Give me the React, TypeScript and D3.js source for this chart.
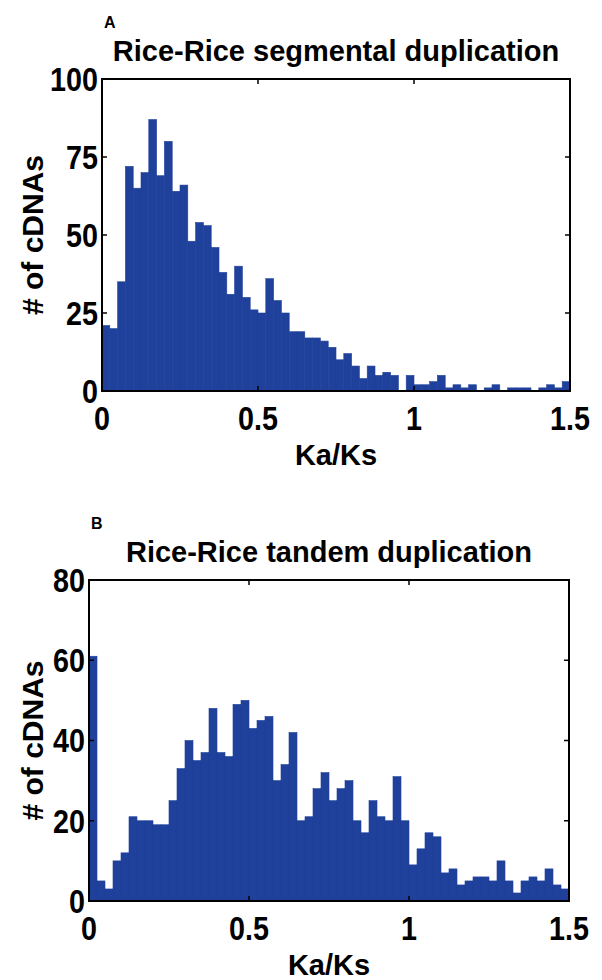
import React from 'react';
import * as d3 from 'd3';

// bin width on Ka/Ks axis, 60 bins from 0 to 1.5
const binWidth = 0.025;
const binStarts = d3.range(60).map((i) => i * binWidth);

const segmentalCounts = [
  21, 20, 35, 72, 65, 70, 87, 69, 80, 64, 66, 48, 54, 53, 46, 38, 31, 40, 30, 26,
  25, 36, 29, 25, 19, 19, 17, 17, 16, 14, 10, 12, 8, 4, 8, 5, 6, 5, 0, 5,
  2, 2, 3, 5, 1, 2, 1, 2, 0, 1, 2, 0, 1, 1, 1, 0, 1, 2, 1, 3,
];

const tandemCounts = [
  61, 5, 3, 10, 12, 21, 20, 20, 19, 19, 25, 33, 40, 35, 37, 48, 37, 36, 49, 50,
  43, 45, 46, 30, 34, 42, 20, 21, 28, 32, 25, 28, 30, 20, 17, 25, 21, 20, 31, 20,
  9, 13, 17, 16, 7, 8, 4, 5, 6, 6, 5, 10, 5, 2, 5, 6, 5, 8, 4, 3,
];

const xTicks = [0, 0.5, 1, 1.5];
const segmentalYTicks = [0, 25, 50, 75, 100];
const tandemYTicks = [0, 20, 40, 60, 80];

const barColor = '#1f419b';
const fontFamily = '"Liberation Sans", Arial, Helvetica, sans-serif';

interface PanelProps {
  letter: string;
  title: string;
  counts: number[];
  yMax: number;
  yTicks: number[];
  left: number;
  right: number;
  top: number;
  bottom: number;
}

// tick labels in the figure are a narrow bold face
function TickLabel({ x, y, anchor, dy, children }: { x: number; y: number; anchor: string; dy?: string; children: React.ReactNode }) {
  return (
    <text
      transform={`translate(${x},${y}) scale(0.87,1)`}
      dy={dy}
      fontSize={33}
      fontWeight="bold"
      fontFamily={fontFamily}
      textAnchor={anchor}
    >
      {children}
    </text>
  );
}

function Panel({ letter, title, counts, yMax, yTicks, left, right, top, bottom }: PanelProps) {
  const x = d3.scaleLinear().domain([0, 1.5]).range([left, right]);
  const y = d3.scaleLinear().domain([0, yMax]).range([bottom, top]);
  const tickLen = 5;
  const fmt = (v: number) => String(v);

  return (
    <g>
      <text x={left + 2} y={top - 51} fontSize={16} fontWeight="bold" fontFamily={fontFamily}>
        {letter}
      </text>
      <text
        x={(left + right) / 2}
        y={top - 18}
        fontSize={29}
        fontWeight="bold"
        fontFamily={fontFamily}
        textAnchor="middle"
      >
        {title}
      </text>

      {binStarts.map((b, i) =>
        counts[i] > 0 ? (
          <rect
            key={i}
            x={x(b)}
            y={y(counts[i])}
            width={x(b + binWidth) - x(b)}
            height={y(0) - y(counts[i])}
            fill={barColor}
            stroke={barColor}
            strokeWidth={0.6}
          />
        ) : null
      )}

      {/* ticks on all four sides, pointing inward */}
      {xTicks.map((t) => (
        <g key={'x' + t}>
          <line x1={x(t)} x2={x(t)} y1={bottom} y2={bottom - tickLen} stroke="#000" strokeWidth={1.5} />
          <line x1={x(t)} x2={x(t)} y1={top} y2={top + tickLen} stroke="#000" strokeWidth={1.5} />
          <TickLabel x={x(t)} y={bottom + 39} anchor="middle">
            {fmt(t)}
          </TickLabel>
        </g>
      ))}
      {yTicks.map((t) => (
        <g key={'y' + t}>
          <line x1={left} x2={left + tickLen} y1={y(t)} y2={y(t)} stroke="#000" strokeWidth={1.5} />
          <line x1={right} x2={right - tickLen} y1={y(t)} y2={y(t)} stroke="#000" strokeWidth={1.5} />
          <TickLabel x={left - 4} y={y(t)} dy="0.36em" anchor="end">
            {fmt(t)}
          </TickLabel>
        </g>
      ))}

      <rect
        x={left}
        y={top}
        width={right - left}
        height={bottom - top}
        fill="none"
        stroke="#000"
        strokeWidth={2}
      />

      <text
        x={(left + right) / 2}
        y={bottom + 74}
        fontSize={29}
        fontWeight="bold"
        fontFamily={fontFamily}
        textAnchor="middle"
      >
        Ka/Ks
      </text>
      <text
        transform={`translate(43,${(top + bottom) / 2}) rotate(-90)`}
        fontSize={30}
        fontWeight="bold"
        fontFamily={fontFamily}
        textAnchor="middle"
      >
        # of cDNAs
      </text>
    </g>
  );
}

export default function App() {
  return (
    <svg
      width={602}
      height={980}
      style={{ position: 'absolute', left: 0, top: 0, background: '#fff' }}
    >
      <Panel
        letter="A"
        title="Rice-Rice segmental duplication"
        counts={segmentalCounts}
        yMax={100}
        yTicks={segmentalYTicks}
        left={102}
        right={570}
        top={79}
        bottom={391}
      />
      <Panel
        letter="B"
        title="Rice-Rice tandem duplication"
        counts={tandemCounts}
        yMax={80}
        yTicks={tandemYTicks}
        left={89}
        right={569}
        top={580}
        bottom={901}
      />
    </svg>
  );
}
